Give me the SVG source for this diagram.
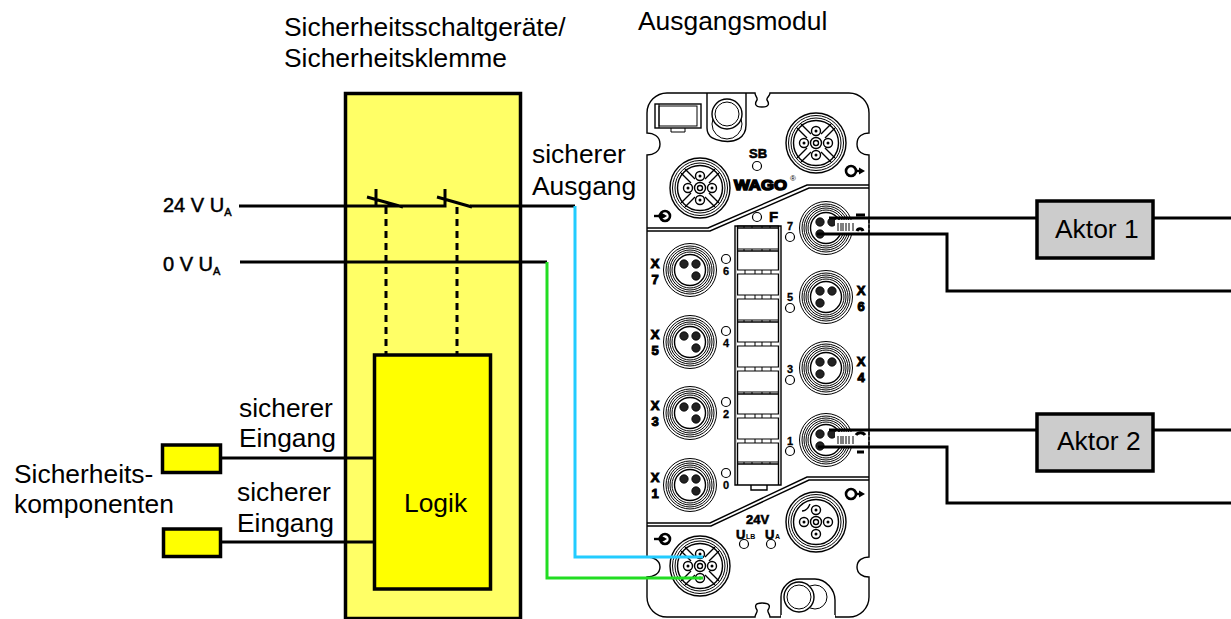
<svg xmlns="http://www.w3.org/2000/svg" width="1231" height="619" viewBox="0 0 1231 619">
<style>
text{font-family:"Liberation Sans",Arial,sans-serif;fill:#000}
.lbl{font-size:26.400px}
.pw{font-size:20px;stroke:#000;stroke-width:.5}
.sm{font-size:11px;font-weight:bold;text-anchor:middle;stroke:#000;stroke-width:.3}
.mk{font-size:13px;font-weight:bold;text-anchor:middle;stroke:#000;stroke-width:1}
.mt{font-size:13px;font-weight:bold;stroke:#000;stroke-width:.6}
.w{fill:none;stroke:#000;stroke-width:3}
.box{stroke:#000;stroke-width:3.5}
.th{fill:none;stroke:#000;stroke-width:1}
.m{fill:none;stroke:#000;stroke-width:1.4}
.wh{fill:#fff;stroke:none}
.led{fill:#fff;stroke:#000;stroke-width:1.2}
.pin{fill:#222;stroke:#000;stroke-width:.8}
</style>
<defs>
<g id="rings">
<circle r="26.500" class="th"/><circle r="24" class="th"/><circle r="22" class="th"/><circle r="20" class="th"/><circle r="18" class="th"/><circle r="15.500" class="m"/>
</g>
<g id="c3l"><use href="#rings"/><circle cx="-6" cy="-6" r="4.200" class="pin"/><circle cx="6" cy="-6" r="4.200" class="pin"/><circle cx="6" cy="6" r="4.200" class="pin"/></g>
<g id="c3r"><use href="#rings"/><circle cx="-6" cy="-6" r="4.200" class="pin"/><circle cx="6" cy="-6" r="4.200" class="pin"/><circle cx="-6" cy="6" r="4.200" class="pin"/></g>
<g id="c5base">
<circle r="30" class="m"/><circle r="27.500" class="th"/><circle r="25" class="th"/><circle r="22.500" class="m"/>
<circle r="5.500" class="m"/><circle r="2.500" class="m"/>
<circle cx="-12" r="4.500" class="m"/><circle cx="12" r="4.500" class="m"/><circle cy="-12" r="4.500" class="m"/><circle cy="12" r="4.500" class="m"/>
<circle cx="-12" r="1.500" fill="#000"/><circle cx="12" r="1.500" fill="#000"/><circle cy="-12" r="1.500" fill="#000"/><circle cy="12" r="1.500" fill="#000"/>
</g>
<g id="c5"><use href="#c5base"/>
<path class="m" d="M-5-9-15-19M-9-5-19-15M5-9 15-19M9-5 19-15M-5 9-15 19M-9 5-19 15M5 9 15 19M9 5 19 15"/>
</g>
<g id="bar1"><rect x="737" y="-2" width="42" height="4" class="wh"/><path class="th" d="M737-2H779M737 2H779M745-2V2M755-2V2M762-2V2M771-2V2"/></g>
<g id="bar2"><path class="th" d="M737-1H779M744-1V1M752-1V1M762-1V1M770-1V1"/><path d="M737 1H779" stroke="#000" stroke-width="1.600"/></g>
<g id="out"><circle r="5" fill="none" stroke="#000" stroke-width="2.600"/><path d="M5 0H9" stroke="#000" stroke-width="2.400"/><path d="M8-3.500 14 0 8 3.500Z" fill="#000"/></g>
<g id="inp"><circle r="5" fill="none" stroke="#000" stroke-width="2.600"/><path d="M-7 0H0" stroke="#000" stroke-width="2.400"/><path d="M-4-3.500 2 0-4 3.500Z" fill="#000"/><path d="M-11 0H-6" stroke="#000" stroke-width="2.400"/></g>
</defs>

<g id="sicherheitsschaltgeraet">
<rect x="345.500" y="93.500" width="175" height="525" fill="#ffff66" class="box"/>
<text class="lbl" x="284" y="36">Sicherheitsschaltgeräte/</text>
<text class="lbl" x="284" y="67">Sicherheitsklemme</text>
</g>

<g id="logik">
<rect x="374.500" y="355" width="116" height="234" fill="#ffff00" class="box"/>
<text class="lbl" x="404" y="512">Logik</text>
</g>

<g id="ausgangsmodul">
<text class="lbl" x="638" y="30">Ausgangsmodul</text>
<path class="m" fill="#fff" d="M667 93H755C755 96 758 98 757 100C755 103 754 107 762 107C770 107 769 103 767 100C766 98 770 96 770 93H849A20 20 0 0 1 869 113V133C863 133 857 136 857 144C857 152 863 155 869 155V557C863 557 857 560 857 567C857 574 863 577 869 577V597A20 20 0 0 1 849 617H770C770 614 767 612 768 610C770 607 771 603 762 603C754 603 755 607 757 610C758 612 755 614 755 617H667A20 20 0 0 1 647 597V577C653 577 660 574 660 567C660 560 653 557 647 557V155C653 155 660 152 660 144C660 136 653 133 647 133V113A20 20 0 0 1 667 93Z"/>
<path class="m" d="M647 228H708L807 185H869M647 231H710L809 188H869M647 523H710L807 477H869M647 526H711L809 480H869"/>
<path class="m" d="M707 93V128C707 138 716 140 722 141C735 143 746 138 746 125V93"/>
<circle cx="727" cy="114" r="16" class="wh"/><circle cx="727" cy="124" r="15" class="th"/><circle cx="727" cy="114" r="15" fill="#fff" stroke="#000" stroke-width="1.400"/><circle cx="727" cy="114" r="12" class="th"/>
<rect x="655" y="104" width="46" height="24" class="m"/><rect x="659" y="106" width="38" height="20" class="th"/><path class="th" d="M659 104V128M671 128V132H685V128"/>
<path class="m" d="M781 617V597C781 587 790 579 800 579H815C826 579 835 590 835 600V617"/>
<circle cx="815" cy="597" r="12" class="th"/><circle cx="799" cy="597" r="15" fill="#fff" stroke="#000" stroke-width="1.400"/><circle cx="799" cy="597" r="12" class="th"/>
<rect x="781" y="615" width="54" height="3" class="wh"/>

<use href="#c5" x="816" y="143"/>
<use href="#c5" x="700" y="188"/>
<use href="#c5base" x="816" y="522"/>
<path class="m" d="M810 504C808 509 806 511 802 511"/>
<use href="#c5" x="700" y="566"/>

<use href="#c3l" x="690" y="270"/><use href="#c3l" x="690" y="342"/><use href="#c3l" x="690" y="413"/><use href="#c3l" x="690" y="485"/>
<use href="#c3r" x="826" y="228"/><use href="#c3r" x="826" y="297"/><use href="#c3r" x="826" y="368"/><use href="#c3r" x="826" y="440"/>

<path class="m" d="M735 226V485H781V226ZM737.500 226V485M778.500 226V485"/>
<path class="m" d="M751 485V490H767V485"/>
<use href="#bar2" y="227"/><use href="#bar2" y="250"/><use href="#bar1" y="272"/><use href="#bar1" y="297"/><use href="#bar2" y="321"/><use href="#bar1" y="344"/><use href="#bar1" y="369"/><use href="#bar2" y="393"/><use href="#bar1" y="416"/><use href="#bar1" y="441"/><use href="#bar2" y="463"/>

<circle class="led" cx="757" cy="166" r="4.500"/><circle class="led" cx="757" cy="217" r="4.500"/><circle class="led" cx="790" cy="237" r="4.500"/>
<circle class="led" cx="726" cy="259" r="4.500"/><circle class="led" cx="726" cy="331" r="4.500"/><circle class="led" cx="726" cy="402" r="4.500"/><circle class="led" cx="726" cy="473" r="4.500"/>
<circle class="led" cx="790" cy="308" r="4.500"/><circle class="led" cx="790" cy="380" r="4.500"/><circle class="led" cx="790" cy="451" r="4.500"/>
<circle class="led" cx="744" cy="544" r="4.500"/><circle class="led" cx="771" cy="544" r="4.500"/>

<text class="mt" x="749" y="158">SB</text>
<text class="mt" x="769" y="222" style="font-size:15px">F</text>
<text class="sm" x="790" y="230">7</text><text class="sm" x="790" y="301">5</text><text class="sm" x="790" y="373">3</text><text class="sm" x="790" y="445">1</text>
<text class="sm" x="726" y="275">6</text><text class="sm" x="726" y="347">4</text><text class="sm" x="726" y="418">2</text><text class="sm" x="726" y="489">0</text>
<text class="mk" x="655" y="268">X</text><text class="mk" x="655" y="284">7</text><text class="mk" x="655" y="339">X</text><text class="mk" x="655" y="355">5</text><text class="mk" x="655" y="410">X</text><text class="mk" x="655" y="426">3</text><text class="mk" x="655" y="482">X</text><text class="mk" x="655" y="498">1</text>
<text class="mk" x="861" y="295">X</text><text class="mk" x="861" y="311">6</text><text class="mk" x="861" y="366">X</text><text class="mk" x="861" y="382">4</text>
<text class="mt" x="746" y="524">24V</text>
<text class="mt" x="736" y="539">U</text><text x="746" y="539" font-size="7" font-weight="bold">LB</text>
<text class="mt" x="765" y="539">U</text><text x="775" y="539" font-size="7" font-weight="bold">A</text>
<text x="734" y="190" font-size="15.500" font-weight="bold" stroke="#000" stroke-width="1.500" textLength="53" lengthAdjust="spacingAndGlyphs">WAGO</text>
<text x="790" y="181" font-size="8">®</text>
<use href="#out" x="851" y="171"/><use href="#out" x="851" y="494"/>
<use href="#inp" x="665" y="216"/><use href="#inp" x="665" y="539"/>
<rect x="835" y="220" width="33" height="13" class="wh"/>
<rect x="835" y="432" width="33" height="14" class="wh"/>
<path class="th" d="M838 223V231M841 223V231M843 223V231M846 223V231M849 223V231M853 223V231M838 436V444M841 436V444M843 436V444M846 436V444M849 436V444M853 436V444"/>
<path stroke="#000" stroke-width="3" fill="none" d="M856 215H865M857 231C858 228 862 228 863 231M856 435C858 432 863 432 865 435M857 452H864"/>
<path d="M869 220V233M869 432V446" stroke="#000" stroke-width="1.200" stroke-dasharray="3 2"/>
</g>

<g id="aktor1"><rect x="1037" y="201" width="116" height="57" fill="#cccccc" class="box"/><text class="lbl" x="1055" y="238">Aktor 1</text></g>
<g id="aktor2"><rect x="1037" y="414" width="116" height="57" fill="#cccccc" class="box"/><text class="lbl" x="1057" y="450">Aktor 2</text></g>

<g id="komponente1"><rect x="162.500" y="445" width="58" height="27.500" fill="#ffff00" class="box"/></g>
<g id="komponente2"><rect x="163.500" y="529" width="57" height="27.500" fill="#ffff00" class="box"/></g>

<g id="connectors">
<path class="w" d="M239 206H403M376 206V189M367 197 403 207M403 206H445V189M437 197 472 207M470 206H575"/>
<path class="w" d="M240 262H547"/>
<path class="w" stroke-dasharray="7 5" d="M386 207V354M457 207V354"/>
<path d="M575 206V557H703" fill="none" stroke="#22ccff" stroke-width="3"/>
<path d="M547 262V578H703" fill="none" stroke="#22dd22" stroke-width="3"/>
<path class="w" d="M221 458H374M221 542H374"/>
<path class="w" d="M829 218H1037M1153 218H1231M817 234H947V291H1231"/>
<path class="w" d="M829 430H1037M1153 430H1231M818 447H947V503H1231"/>
</g>

<g id="labels">
<text class="pw" x="163" y="212">24 V U<tspan font-size="11" dy="4">A</tspan></text>
<text class="pw" x="163" y="271">0 V U<tspan font-size="11" dy="4">A</tspan></text>
<text class="lbl" x="532" y="163">sicherer</text><text class="lbl" x="532" y="195">Ausgang</text>
<text class="lbl" x="239" y="417">sicherer</text><text class="lbl" x="239" y="447">Eingang</text>
<text class="lbl" x="237" y="501">sicherer</text><text class="lbl" x="237" y="532">Eingang</text>
<text class="lbl" x="14" y="483">Sicherheits-</text><text class="lbl" x="14" y="513">komponenten</text>
</g>
</svg>
